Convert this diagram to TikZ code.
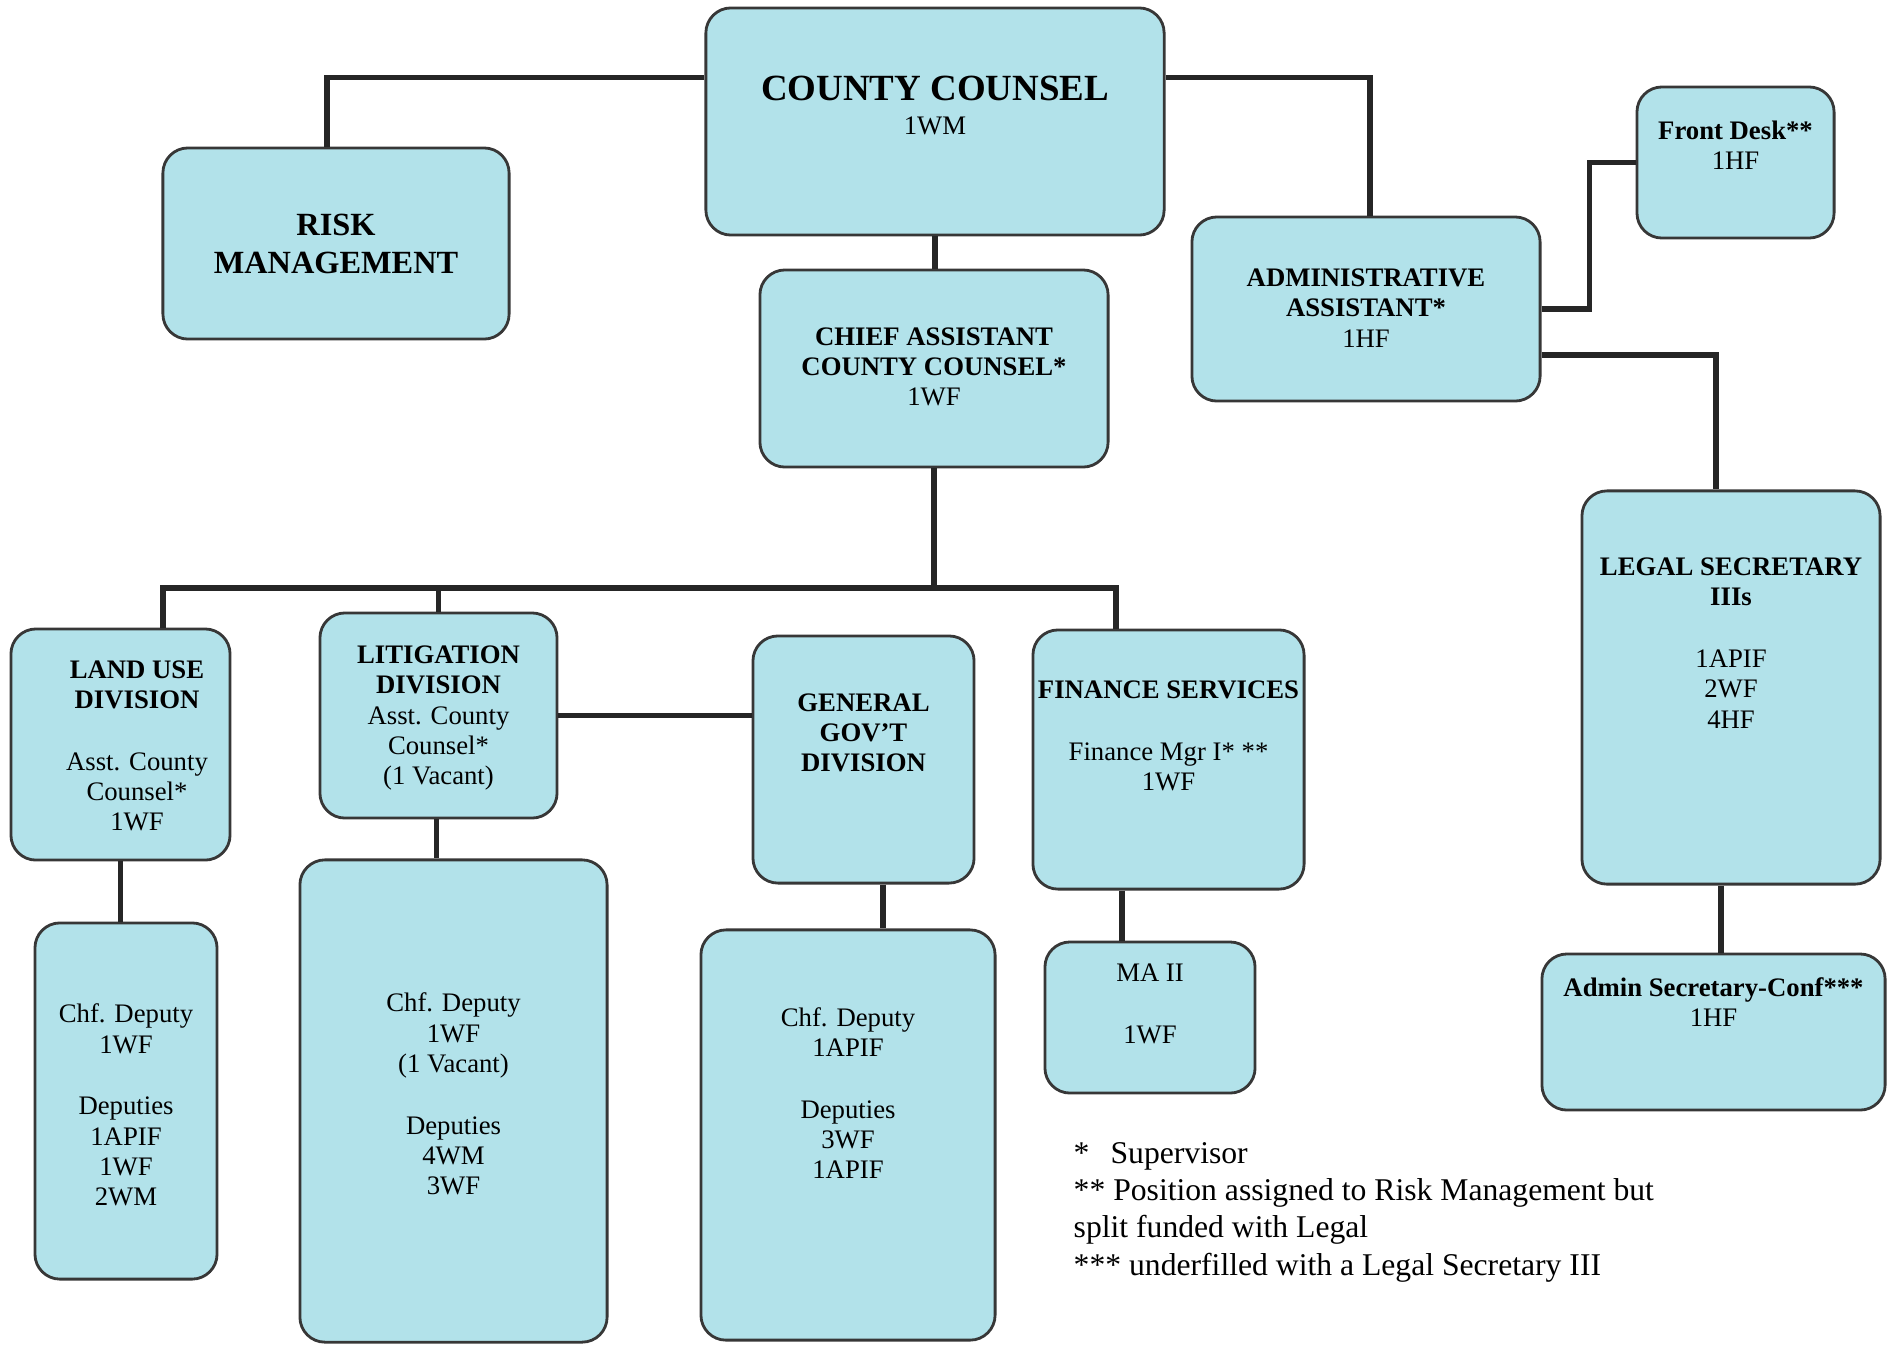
\documentclass[tikz,border=0pt]{standalone}
\usepackage{fontspec}
\setmainfont{Liberation Serif}
\definecolor{boxblue}{RGB}{178,226,234}
\definecolor{edgegray}{RGB}{55,55,55}
\tikzset{
  unitbox/.style={draw=edgegray,fill=boxblue,line width=0.8pt,rounded corners=0.25cm,inner sep=0pt},
  txt/.style={align=center,inner sep=0pt,font=\fontsize{7.6}{8.6}\selectfont},
  hd/.style={txt,font=\fontsize{7.6}{8.6}\selectfont\bfseries},
  link/.style={draw=black!85,line width=1.5pt},
}

\begin{document}
\begin{tikzpicture}[x=0.01cm,y=-0.01cm]
  \useasboundingbox (0,0) rectangle (1892,1345);

  \node[unitbox,minimum width=4.58cm,minimum height=2.27cm] (cc) at (935,121.5) {};
  \node[unitbox,minimum width=3.46cm,minimum height=1.91cm] (rk) at (336,243.5) {};
  \node[unitbox,minimum width=3.48cm,minimum height=1.97cm] (ca) at (934,368.5) {};
  \node[unitbox,minimum width=3.48cm,minimum height=1.84cm] (aa) at (1366,309) {};
  \node[unitbox,minimum width=1.97cm,minimum height=1.51cm] (fd) at (1735.5,162.5) {};
  \node[unitbox,minimum width=2.98cm,minimum height=3.93cm] (ls) at (1731,687.5) {};
  \node[unitbox,minimum width=3.43cm,minimum height=1.56cm] (as) at (1713.5,1032) {};
  \node[unitbox,minimum width=2.19cm,minimum height=2.31cm] (lu) at (120.5,744.5) {};
  \node[unitbox,minimum width=2.37cm,minimum height=2.05cm] (lit) at (438.5,715.5) {};
  \node[unitbox,minimum width=2.21cm,minimum height=2.47cm] (gg) at (863.5,759.5) {};
  \node[unitbox,minimum width=2.71cm,minimum height=2.59cm] (fs) at (1168.5,759.5) {};
  \node[unitbox,minimum width=1.82cm,minimum height=3.56cm] (lul) at (126,1101) {};
  \node[unitbox,minimum width=3.07cm,minimum height=4.82cm] (litl) at (453.5,1101) {};
  \node[unitbox,minimum width=2.94cm,minimum height=4.10cm] (ggl) at (848,1135) {};
  \node[unitbox,minimum width=2.10cm,minimum height=1.51cm] (ma) at (1150,1017.5) {};

  \node[txt] (cc-t) at (935,105.5) {{\fontsize{10.5}{12}\selectfont\bfseries COUNTY COUNSEL}\\[1pt]1WM};
  \node[hd,font=\fontsize{9.2}{10.6}\selectfont\bfseries] (rk-t) at (336,244) {RISK\\MANAGEMENT};
  \node[txt] (ca-t) at (934,367) {\textbf{CHIEF ASSISTANT}\\\textbf{COUNTY COUNSEL*}\\1WF};
  \node[txt] (aa-t) at (1366,308) {\textbf{ADMINISTRATIVE}\\\textbf{ASSISTANT*}\\1HF};
  \node[txt] (fd-t) at (1735.5,145) {\textbf{Front Desk**}\\1HF};
  \node[txt] (ls-t) at (1731,643) {\textbf{LEGAL SECRETARY}\\\textbf{IIIs}\\[9pt]1APIF\\2WF\\4HF};
  \node[txt] (as-t) at (1713.5,1002) {\textbf{Admin Secretary-Conf***}\\1HF};
  \node[txt] (lu-t) at (137,746) {\textbf{LAND USE}\\\textbf{DIVISION}\\[9pt]Asst. County\\Counsel*\\1WF};
  \node[txt] (lit-t) at (438.5,718) {\textbf{LITIGATION}\\\textbf{DIVISION}\\Asst. County\\Counsel*\\(1 Vacant)};
  \node[hd] (gg-t) at (863.5,733) {GENERAL\\GOV’T\\DIVISION};
  \node[txt] (fs-t) at (1168.5,736) {\textbf{FINANCE SERVICES}\\[9pt]Finance Mgr I* **\\1WF};
  \node[txt] (lul-t) at (126,1105) {Chf. Deputy\\1WF\\[9pt]Deputies\\1APIF\\1WF\\2WM};
  \node[txt] (litl-t) at (453.5,1094) {Chf. Deputy\\1WF\\(1 Vacant)\\[9pt]Deputies\\4WM\\3WF};
  \node[txt] (ggl-t) at (848,1093) {Chf. Deputy\\1APIF\\[9pt]Deputies\\3WF\\1APIF};
  \node[txt] (ma-t) at (1150,1004) {MA II\\[9pt]1WF};

  \node[txt,align=left,anchor=west,font=\fontsize{9}{10.6}\selectfont] (notes) at (1073,1212)
    {*\hspace{6pt}Supervisor\\** Position assigned to Risk Management but\\split funded with Legal\\*** underfilled with a Legal Secretary III};

  \draw[link] ([yshift=0.44cm]cc.west) -| ([xshift=-0.09cm]rk.north);
  \draw[link] ([yshift=0.44cm]cc.east) -| ([xshift=0.04cm]aa.north);
  \draw[link] (cc.south) -- (cc.south |- ca.north);
  \coordinate (bus) at (934,588);
  \draw[link] (ca.south) -- (bus);
  \draw[link] ([xshift=0.425cm]lu.north) |- (bus) -| ([xshift=-0.525cm]fs.north);
  \draw[link] (lit.north) -- (lit.north |- bus);
  \draw[link] (lit.east) -- (lit.east -| gg.west);
  \draw[link] (lu.south) -- (lu.south |- lul.north);
  \coordinate (litb) at ([xshift=-0.02cm]lit.south);
  \draw[link] (litb) -- (litb |- litl.north);
  \coordinate (ggb) at ([xshift=0.195cm]gg.south);
  \draw[link] (ggb) -- (ggb |- ggl.north);
  \coordinate (fsb) at ([xshift=-0.465cm]fs.south);
  \draw[link] (fsb) -- (fsb |- ma.north);
  \draw[link] (aa.east) -- ++(0.48cm,0) |- (fd.west);
  \draw[link] ([yshift=-0.46cm]aa.east) -| ([xshift=-0.15cm]ls.north);
  \coordinate (lsb) at ([xshift=-0.10cm]ls.south);
  \draw[link] (lsb) -- (lsb |- as.north);
\end{tikzpicture}
\end{document}
